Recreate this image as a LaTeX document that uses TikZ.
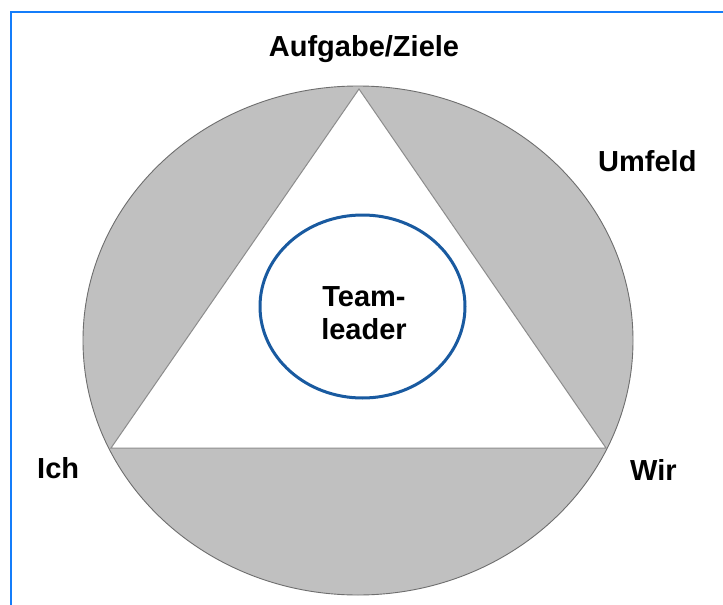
\documentclass[tikz,border=0pt]{standalone}
\usepackage{fontspec}
\setmainfont{Liberation Sans}
\usetikzlibrary{shapes.geometric}
\definecolor{frameblue}{RGB}{20,125,250}
\definecolor{ringblue}{RGB}{25,90,160}
\definecolor{silver}{RGB}{192,192,192}
\definecolor{edgegray}{RGB}{110,110,110}
\definecolor{trigray}{RGB}{140,140,140}
\tikzset{
  lbl/.style={font=\fontsize{29}{33}\selectfont\bfseries, inner sep=0pt, text=black},
  outer/.style={ellipse, draw=edgegray, fill=silver, line width=0.9pt, inner sep=0pt},
  tri/.style={draw=trigray, fill=white, line width=1pt, line join=miter},
  ring/.style={ellipse, draw=ringblue, line width=3pt, inner sep=0pt},
  frame/.style={draw=frameblue, line width=2pt}
}
\begin{document}
\begin{tikzpicture}[x=1pt,y=-1pt]
\useasboundingbox (0,0) rectangle (723,605);
\fill[white] (0,0) rectangle (723,605);
% frame (top and left only visible)
\coordinate (ftr) at (723,12);
\coordinate (ftl) at (11,12);
\coordinate (fbl) at (11,605);
\draw[frame] (ftr) -- (ftl) -- (fbl);
% outer ellipse
\node[outer, minimum width=550pt, minimum height=509pt] (env) at (358,340.5) {};
% triangle
\coordinate (top) at (359,89);
\coordinate (left) at (111,448);
\coordinate (right) at (606,448);
\draw[tri] (top) -- (left) -- (right) -- cycle;
% inner circle
\node[ring, minimum width=205pt, minimum height=183pt] (ring) at (362.5,306.5) {};
\node[lbl, align=center, anchor=center] (leader) at (364,313) {Team-\\leader};
% labels
\node[lbl, anchor=base] (aufgabe) at (364,56) {Aufgabe/Ziele};
\node[lbl, anchor=base west] (umfeld) at (598,171) {Umfeld};
\node[lbl, anchor=base west] (ich) at (37,478) {Ich};
\node[lbl, anchor=base west] (wir) at (630,480) {Wir};
\end{tikzpicture}
\end{document}
